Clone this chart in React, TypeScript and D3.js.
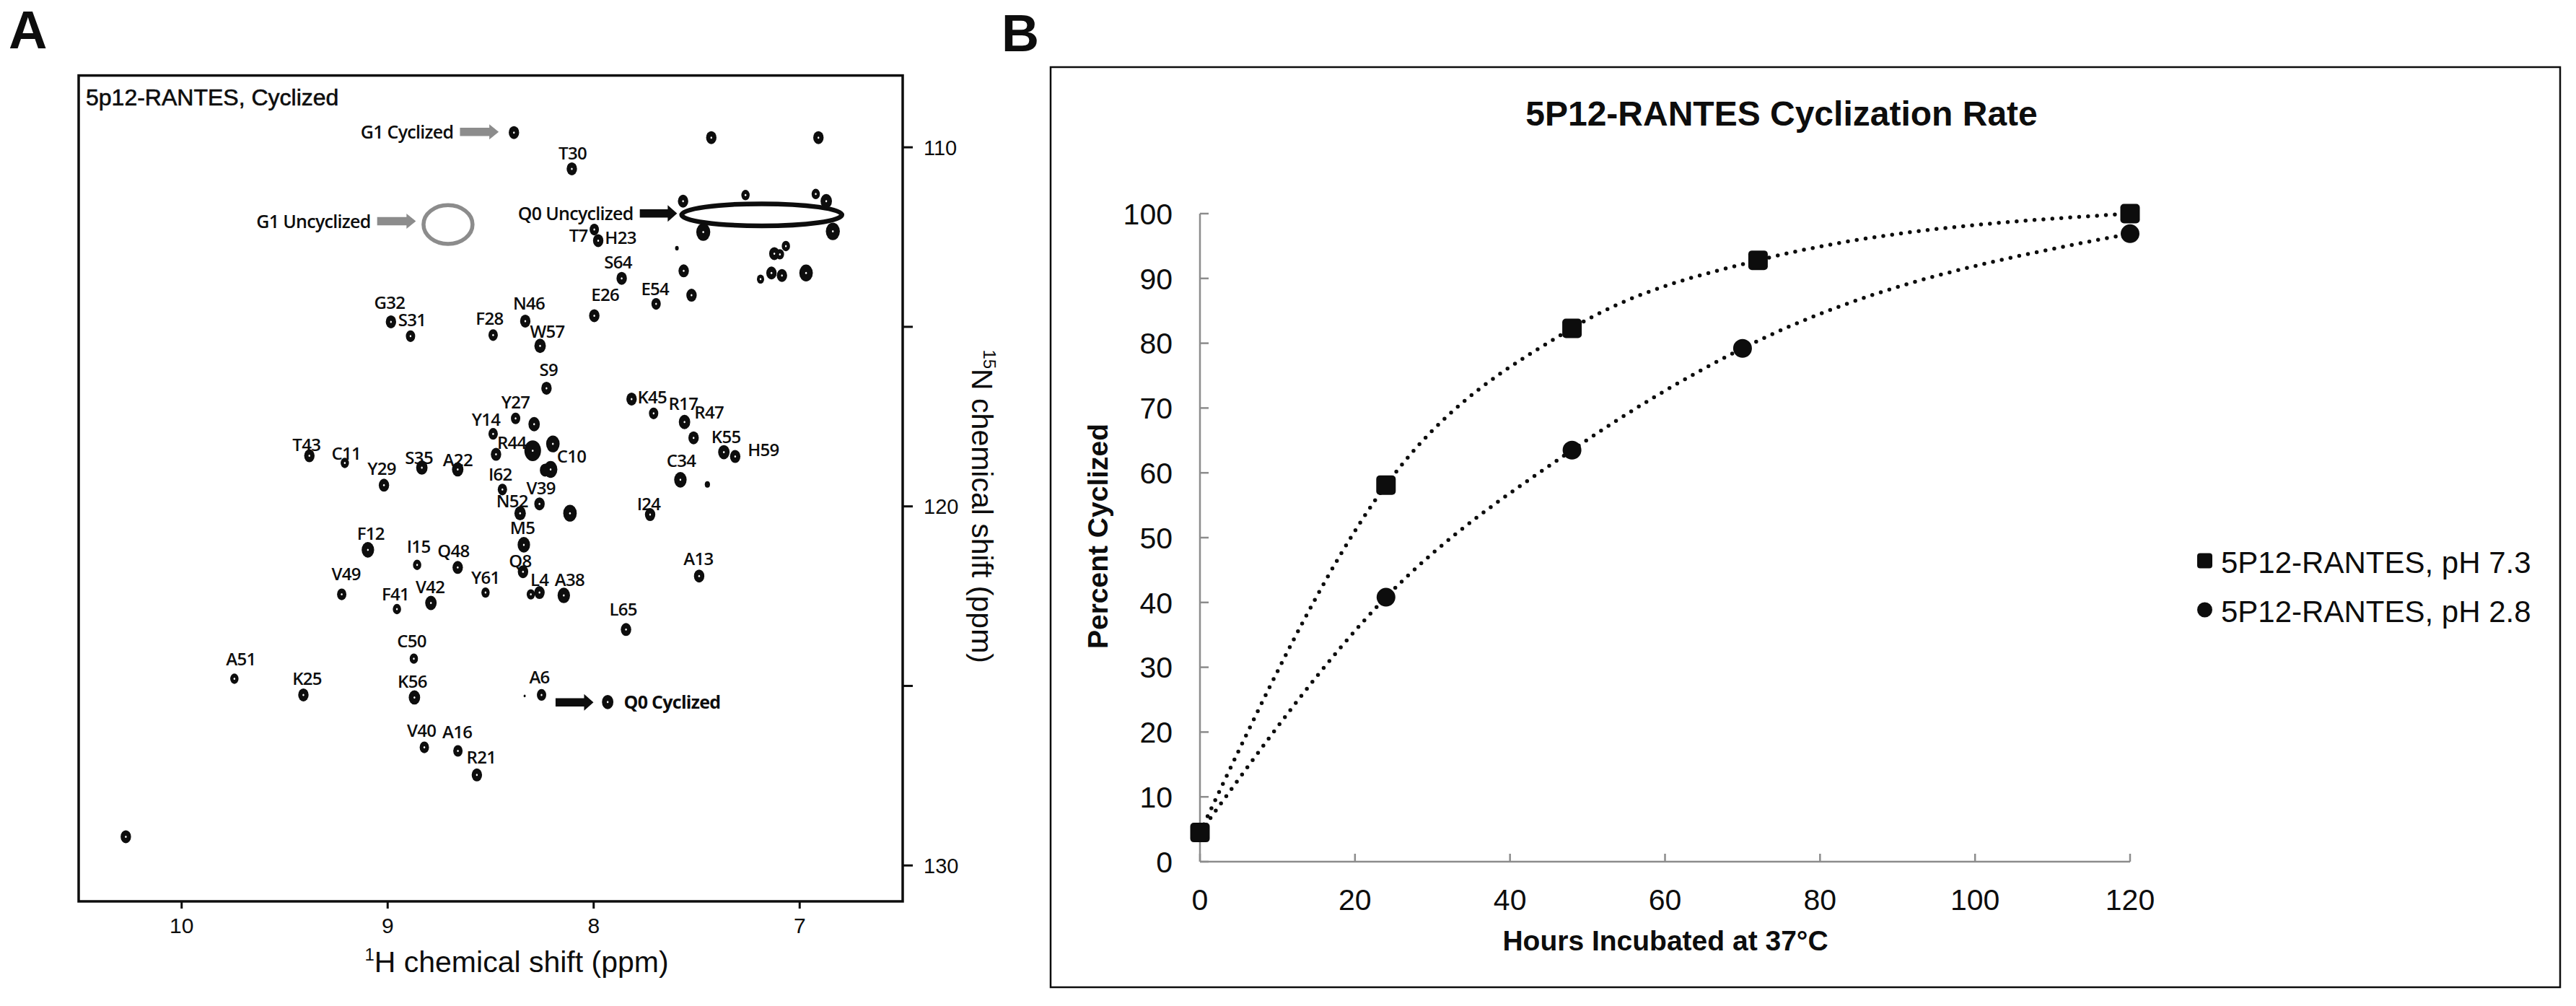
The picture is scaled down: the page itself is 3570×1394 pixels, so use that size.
import React from 'react';
import * as d3 from 'd3';

// ---------- Panel A: 1H-15N HSQC of 5p12-RANTES (ppm) ----------
// assigned peaks: residue, 1H shift, 15N shift, relative intensity
const assignedPeaks = [
  { res: 'G32', h: 8.984, n: 114.86, i: 1 },
  { res: 'S31', h: 8.889, n: 115.26, i: 0.9 },
  { res: 'F28', h: 8.488, n: 115.23, i: 0.9 },
  { res: 'T30', h: 8.106, n: 110.6, i: 1 },
  { res: 'T7', h: 7.997, n: 112.29, i: 0.9 },
  { res: 'H23', h: 7.978, n: 112.6, i: 1 },
  { res: 'S64', h: 7.864, n: 113.65, i: 1 },
  { res: 'E26', h: 7.997, n: 114.69, i: 1 },
  { res: 'E54', h: 7.697, n: 114.36, i: 0.9 },
  { res: 'N46', h: 8.332, n: 114.84, i: 1 },
  { res: 'W57', h: 8.26, n: 115.53, i: 1.1 },
  { res: 'S9', h: 8.229, n: 116.71, i: 1 },
  { res: 'K45', h: 7.816, n: 117.01, i: 1 },
  { res: 'R17', h: 7.709, n: 117.41, i: 0.9 },
  { res: 'R47', h: 7.559, n: 117.65, i: 1.1 },
  { res: 'K55', h: 7.368, n: 118.49, i: 1.1 },
  { res: 'H59', h: 7.313, n: 118.61, i: 1 },
  { res: 'Y27', h: 8.379, n: 117.55, i: 0.9 },
  { res: 'Y14', h: 8.488, n: 117.98, i: 0.9 },
  { res: 'R44', h: 8.296, n: 118.45, i: 1.6 },
  { res: 'C10', h: 8.209, n: 118.97, i: 1.3 },
  { res: 'C34', h: 7.579, n: 119.26, i: 1.2 },
  { res: 'T43', h: 9.38, n: 118.59, i: 1 },
  { res: 'C11', h: 9.208, n: 118.79, i: 0.8 },
  { res: 'Y29', h: 9.018, n: 119.41, i: 1 },
  { res: 'S35', h: 8.834, n: 118.92, i: 1.1 },
  { res: 'A22', h: 8.66, n: 118.97, i: 1.1 },
  { res: 'I62', h: 8.443, n: 119.53, i: 0.9 },
  { res: 'N52', h: 8.357, n: 120.19, i: 1.1 },
  { res: 'V39', h: 8.263, n: 119.93, i: 1 },
  { res: 'I24', h: 7.726, n: 120.23, i: 1 },
  { res: 'M5', h: 8.339, n: 121.07, i: 1.2 },
  { res: 'Q8', h: 8.343, n: 121.82, i: 1 },
  { res: 'L4', h: 8.263, n: 122.4, i: 1 },
  { res: 'A38', h: 8.145, n: 122.48, i: 1.2 },
  { res: 'A13', h: 7.488, n: 121.94, i: 1 },
  { res: 'L65', h: 7.843, n: 123.43, i: 1 },
  { res: 'Y61', h: 8.525, n: 122.4, i: 0.8 },
  { res: 'A6', h: 8.253, n: 125.25, i: 0.9 },
  { res: 'R21', h: 8.567, n: 127.48, i: 1 },
  { res: 'F12', h: 9.096, n: 121.21, i: 1.2 },
  { res: 'I15', h: 8.857, n: 121.63, i: 0.8 },
  { res: 'Q48', h: 8.66, n: 121.7, i: 1 },
  { res: 'V49', h: 9.223, n: 122.45, i: 0.9 },
  { res: 'F41', h: 8.955, n: 122.86, i: 0.8 },
  { res: 'V42', h: 8.79, n: 122.69, i: 1.1 },
  { res: 'C50', h: 8.873, n: 124.24, i: 0.8 },
  { res: 'A51', h: 9.744, n: 124.8, i: 0.8 },
  { res: 'K25', h: 9.409, n: 125.25, i: 1 },
  { res: 'K56', h: 8.87, n: 125.32, i: 1.1 },
  { res: 'V40', h: 8.822, n: 126.71, i: 0.9 },
  { res: 'A16', h: 8.659, n: 126.81, i: 0.9 },
];

// peaks without residue labels (side chains, G1/Q0 etc.)
const otherPeaks = [
  { h: 8.387, n: 109.59, i: 1 },
  { h: 7.932, n: 125.45, i: 1.1 },
  { h: 7.429, n: 109.73, i: 1 },
  { h: 6.909, n: 109.73, i: 1 },
  { h: 7.566, n: 111.5, i: 1 },
  { h: 7.263, n: 111.33, i: 0.8 },
  { h: 6.922, n: 111.3, i: 0.8 },
  { h: 6.871, n: 111.5, i: 1.1 },
  { h: 7.468, n: 112.36, i: 1.35 },
  { h: 6.839, n: 112.34, i: 1.35 },
  { h: 7.596, n: 112.81, i: 0.35 },
  { h: 7.123, n: 112.96, i: 1 },
  { h: 7.067, n: 112.75, i: 0.8 },
  { h: 7.096, n: 112.98, i: 0.8 },
  { h: 7.137, n: 113.5, i: 1 },
  { h: 7.086, n: 113.57, i: 1 },
  { h: 7.19, n: 113.67, i: 0.7 },
  { h: 6.969, n: 113.5, i: 1.3 },
  { h: 7.563, n: 113.44, i: 1 },
  { h: 7.525, n: 114.12, i: 1 },
  { h: 7.515, n: 118.09, i: 1 },
  { h: 8.289, n: 117.71, i: 1.1 },
  { h: 8.474, n: 118.55, i: 1 },
  { h: 8.198, n: 118.26, i: 1.3 },
  { h: 8.236, n: 118.99, i: 1 },
  { h: 7.448, n: 119.39, i: 0.5 },
  { h: 8.115, n: 120.19, i: 1.3 },
  { h: 8.305, n: 122.45, i: 0.8 },
  { h: 8.335, n: 125.28, i: 0.2 },
  { h: 10.271, n: 129.2, i: 1 },
];

// where each residue label sits relative to its peak (px)
const labelOffsets: Record<string, [number, number]> = {
  G32: [-2, -27], S31: [2, -22], F28: [-5, -23], T30: [1, -21.5], T7: [-22, 8],
  H23: [31, -4], S64: [-5, -22], E26: [15, -29.5], E54: [-1.5, -21], N46: [5, -25],
  W57: [10, -20], S9: [3, -26], K45: [28.5, -3], R17: [41, -13.6], R47: [34, -13],
  K55: [3, -21], H59: [39, -9], Y27: [0, -22.5], Y14: [-10, -20], R44: [-29, -11.5],
  C10: [29, -18], C34: [1, -26], T43: [-4, -15], C11: [2, -13], Y29: [-3, -22.5],
  S35: [-4, -13.5], A22: [0, -13.5], I62: [-3, -21], V39: [2, -22], N52: [-11, -17],
  I24: [-2, -15], M5: [-2, -24], Q8: [-4, -15], L4: [0, -18], A38: [8, -22],
  A13: [-1, -24], L65: [-4, -27.5], Y61: [0, -21], A6: [-3, -25], F12: [4, -23],
  I15: [2, -25.7], Q48: [-6, -22.6], V49: [6, -28.7], F41: [-2, -21], V42: [-1, -22],
  C50: [-3, -24], A51: [9, -27], K25: [5, -23], K56: [-3, -22], V40: [-4, -23],
  A16: [-1, -26], R21: [6, -24],
};

// annotation arrows (ppm): label, arrow start/end in 1H, 15N row
const annotations = [
  { text: 'G1 Cyclized', h0: 8.649, h1: 8.461, n: 109.57, gray: true, labelRight: false, bold: false },
  { text: 'G1 Uncyclized', h0: 9.051, h1: 8.863, n: 112.06, gray: true, labelRight: false, bold: false },
  { text: 'Q0 Uncyclized', h0: 7.776, h1: 7.595, n: 111.84, gray: false, labelRight: false, bold: false },
  { text: 'Q0 Cyclized', h0: 8.185, h1: 8.001, n: 125.46, gray: false, labelRight: true, bold: true },
];
// ringed regions: centre and half widths in ppm
const rings = [
  { h: 8.707, n: 112.15, dh: 0.119, dn: 0.54, gray: true },
  { h: 7.184, n: 111.88, dh: 0.389, dn: 0.307, gray: false },
];

const hTicks = [10, 9, 8, 7];
const nTicks = [110, 115, 120, 125, 130];
const nTickLabels = [110, 120, 130];

// ---------- Panel B: cyclization rate ----------
const hoursPH73 = [0, 24, 48, 72, 120];
const cyclizedPH73 = [4.5, 58.1, 82.3, 92.8, 100];
const hoursPH28 = [0, 24, 48, 70, 120];
const cyclizedPH28 = [4.5, 40.8, 63.5, 79.2, 96.9];
const hourTicks = [0, 20, 40, 60, 80, 100, 120];
const percentTicks = [0, 10, 20, 30, 40, 50, 60, 70, 80, 90, 100];
const seriesNames = ['5P12-RANTES, pH 7.3', '5P12-RANTES, pH 2.8'];

const ARIAL = "'Liberation Sans', Arial, sans-serif";
const MYRIAD = "'Open Sans', 'Noto Sans', sans-serif";
const GRAY = '#8c8c8c';
const INK = '#0d0d0d';

const arrowPath = (x0: number, x1: number, y: number, t: number, hw: number, hl: number) =>
  `M${x0},${y - t / 2}L${x1 - hl},${y - t / 2}L${x1 - hl},${y - hw / 2}L${x1},${y}` +
  `L${x1 - hl},${y + hw / 2}L${x1 - hl},${y + t / 2}L${x0},${y + t / 2}Z`;

const App: React.FC = () => {
  // panel A scales
  const xA = d3.scaleLinear().domain([10.5, 6.5]).range([109, 1251]);
  const yA = d3.scaleLinear().domain([108, 131]).range([104.6, 1249]);
  const rx = d3.scaleLinear().domain([0, 1]).range([0, 7.2]);

  // panel B scales
  const xB = d3.scaleLinear().domain([0, 120]).range([1663, 2952]);
  const yB = d3.scaleLinear().domain([0, 100]).range([1194, 296]);
  const line = d3
    .line<[number, number]>()
    .x((d) => xB(d[0]))
    .y((d) => yB(d[1]))
    .curve(d3.curveMonotoneX);
  const s73 = hoursPH73.map((h, k) => [h, cyclizedPH73[k]] as [number, number]);
  const s28 = hoursPH28.map((h, k) => [h, cyclizedPH28[k]] as [number, number]);

  const [ax0, ax1] = xA.range();
  const [ay0, ay1] = yA.range();

  const peak = (h: number, n: number, i: number, key: string) => (
    <g key={key}>
      <ellipse cx={xA(h)} cy={yA(n)} rx={rx(i)} ry={rx(i) * 1.25} fill={INK} />
      {i >= 0.7 && <ellipse cx={xA(h)} cy={yA(n)} rx={1.2} ry={1.5} fill="#fff" />}
    </g>
  );

  return (
    <svg
      width={3570}
      height={1394}
      viewBox="0 0 3570 1394"
      style={{ position: 'absolute', left: 0, top: 0, background: '#fff' }}
    >
      <rect width={3570} height={1394} fill="#fff" />

      {/* ================= Panel A ================= */}
      <text x={12} y={67} fontFamily={ARIAL} fontWeight="bold" fontSize={74} fill={INK}>
        A
      </text>
      <rect x={ax0} y={ay0} width={ax1 - ax0} height={ay1 - ay0} fill="none" stroke={INK} strokeWidth={3.5} />
      <text x={119} y={146} fontFamily={ARIAL} fontSize={32} fill={INK} stroke={INK} strokeWidth={0.6}>
        5p12-RANTES, Cyclized
      </text>

      {/* bottom axis */}
      {hTicks.map((t) => (
        <g key={`ht${t}`}>
          <line x1={xA(t)} x2={xA(t)} y1={ay1} y2={ay1 + 10} stroke={INK} strokeWidth={3} />
          <text x={xA(t)} y={1293} textAnchor="middle" fontFamily={ARIAL} fontSize={30} fill={INK}>
            {t}
          </text>
        </g>
      ))}
      <text x={716} y={1347} textAnchor="middle" fontFamily={ARIAL} fontSize={41} fill={INK}>
        <tspan fontSize={24} dy={-16}>1</tspan>
        <tspan dy={16}>H chemical shift (ppm)</tspan>
      </text>

      {/* right axis */}
      {nTicks.map((t) => (
        <line key={`nt${t}`} x1={ax1} x2={ax1 + 14} y1={yA(t)} y2={yA(t)} stroke={INK} strokeWidth={3} />
      ))}
      {nTickLabels.map((t) => (
        <text key={`nl${t}`} x={1280} y={yA(t)} dy="0.36em" fontFamily={ARIAL} fontSize={29} fill={INK}>
          {t}
        </text>
      ))}
      <text
        transform={`translate(1347,${yA(120)}) rotate(90)`}
        textAnchor="middle"
        fontFamily={ARIAL}
        fontSize={41}
        fill={INK}
      >
        <tspan fontSize={24} dy={-16}>15</tspan>
        <tspan dy={16}>N chemical shift (ppm)</tspan>
      </text>

      {/* rings */}
      {rings.map((r, k) => (
        <ellipse
          key={`ring${k}`}
          cx={xA(r.h)}
          cy={yA(r.n)}
          rx={Math.abs(xA(r.h + r.dh) - xA(r.h))}
          ry={Math.abs(yA(r.n + r.dn) - yA(r.n))}
          fill="none"
          stroke={r.gray ? GRAY : INK}
          strokeWidth={r.gray ? 5.5 : 6.5}
        />
      ))}

      {/* peaks */}
      {otherPeaks.map((p, k) => peak(p.h, p.n, p.i, `op${k}`))}
      {assignedPeaks.map((p) => peak(p.h, p.n, p.i, `ap${p.res}`))}
      {assignedPeaks.map((p) => {
        const [dx, dy] = labelOffsets[p.res] || [0, -22];
        return (
          <text
            key={`al${p.res}`}
            x={xA(p.h) + dx}
            y={yA(p.n) + dy}
            dy="0.36em"
            textAnchor="middle"
            fontFamily={MYRIAD}
            fontWeight={600}
            fontSize={24}
            letterSpacing={-0.7}
            fill={INK}
          >
            {p.res}
          </text>
        );
      })}

      {/* annotation arrows */}
      {annotations.map((a) => {
        const x0 = xA(a.h0);
        const x1 = xA(a.h1);
        const y = yA(a.n);
        const col = a.gray ? GRAY : INK;
        return (
          <g key={a.text}>
            <path d={arrowPath(x0, x1, y, 11.5, a.gray ? 21 : 23, 13)} fill={col} />
            <text
              x={a.labelRight ? x1 + 42 : x0 - 9}
              y={y}
              dy="0.36em"
              textAnchor={a.labelRight ? 'start' : 'end'}
              fontFamily={MYRIAD}
              fontWeight={a.bold ? 700 : 600}
              fontSize={25}
              letterSpacing={-0.7}
              fill={INK}
            >
              {a.text}
            </text>
          </g>
        );
      })}

      {/* ================= Panel B ================= */}
      <text x={1388} y={71} fontFamily={ARIAL} fontWeight="bold" fontSize={72} fill={INK}>
        B
      </text>
      <rect x={1456} y={93} width={3548 - 1456} height={1368 - 93} fill="none" stroke={INK} strokeWidth={2.5} />
      <text x={2469} y={174} textAnchor="middle" fontFamily={ARIAL} fontWeight="bold" fontSize={48} fill={INK}>
        5P12-RANTES Cyclization Rate
      </text>

      {/* axes */}
      <line x1={xB(0)} x2={xB(0)} y1={yB(0)} y2={yB(100)} stroke={GRAY} strokeWidth={2.5} />
      <line x1={xB(0)} x2={xB(120)} y1={yB(0)} y2={yB(0)} stroke={GRAY} strokeWidth={2.5} />
      {percentTicks.map((t) => (
        <g key={`pt${t}`}>
          <line x1={xB(0)} x2={xB(0) + 12} y1={yB(t)} y2={yB(t)} stroke={GRAY} strokeWidth={2.5} />
          <text x={1625} y={yB(t)} dy="0.36em" textAnchor="end" fontFamily={ARIAL} fontSize={41} fill={INK}>
            {t}
          </text>
        </g>
      ))}
      {hourTicks.map((t) => (
        <g key={`xt${t}`}>
          <line x1={xB(t)} x2={xB(t)} y1={yB(0)} y2={yB(0) - 11} stroke={GRAY} strokeWidth={2.5} />
          <text x={xB(t)} y={1246} dy="0.36em" textAnchor="middle" fontFamily={ARIAL} fontSize={41} fill={INK}>
            {t}
          </text>
        </g>
      ))}
      <text x={2308} y={1317} textAnchor="middle" fontFamily={ARIAL} fontWeight="bold" fontSize={39} fill={INK}>
        Hours Incubated at 37°C
      </text>
      <text
        transform={`translate(1535,743) rotate(-90)`}
        textAnchor="middle"
        fontFamily={ARIAL}
        fontWeight="bold"
        fontSize={39}
        fill={INK}
      >
        Percent Cyclized
      </text>

      {/* dotted trend curves */}
      {[s73, s28].map((s, k) => (
        <path
          key={`curve${k}`}
          d={line(s) || ''}
          fill="none"
          stroke={INK}
          strokeWidth={5.5}
          strokeLinecap="round"
          strokeDasharray="0 12.4"
        />
      ))}

      {/* markers */}
      {s73.map((d, k) => (
        <rect
          key={`sq${k}`}
          x={xB(d[0]) - 13.5}
          y={yB(d[1]) - 13.5}
          width={27}
          height={27}
          rx={5}
          fill={INK}
        />
      ))}
      {s28.map((d, k) => (
        <circle key={`ci${k}`} cx={xB(d[0])} cy={yB(d[1])} r={13} fill={INK} />
      ))}

      {/* legend */}
      <rect x={3045} y={766.5} width={21} height={21} rx={4} fill={INK} />
      <circle cx={3055.5} cy={845} r={10.5} fill={INK} />
      {seriesNames.map((name, k) => (
        <text key={name} x={3078} y={794 + k * 68} fontFamily={ARIAL} fontSize={42} fill={INK}>
          {name}
        </text>
      ))}
    </svg>
  );
};

export default App;
